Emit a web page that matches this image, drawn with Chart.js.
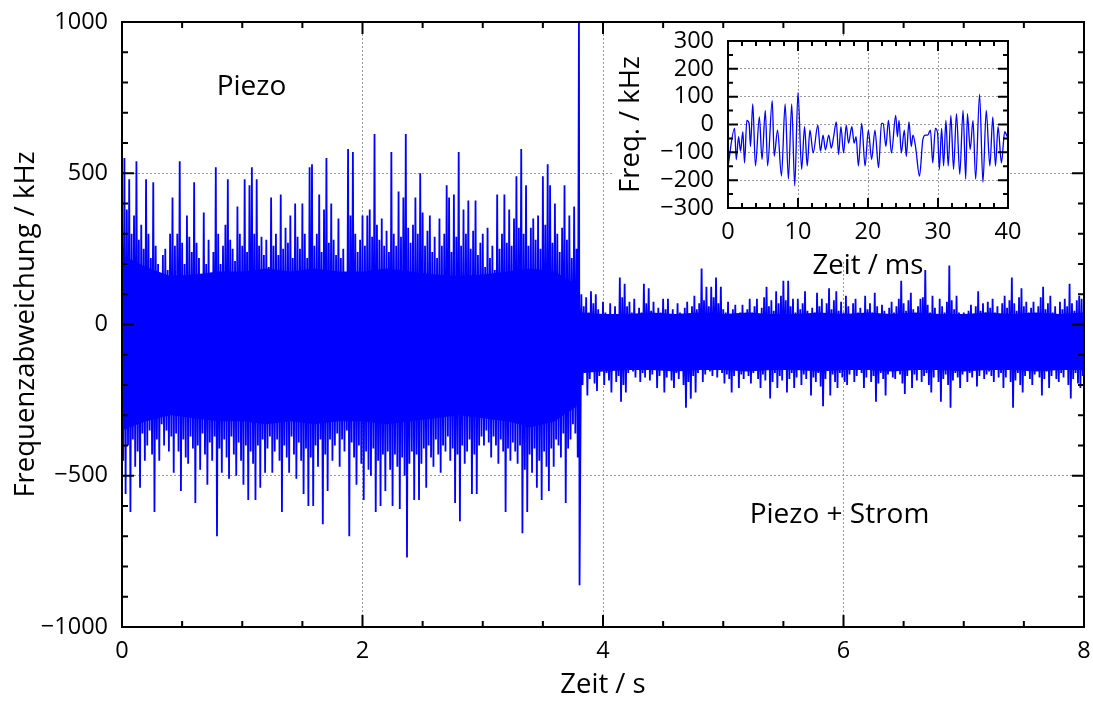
<!DOCTYPE html>
<html><head><meta charset="utf-8">
<script src="https://cdn.jsdelivr.net/npm/chart.js@4.4.0/dist/chart.umd.min.js"></script>
<style>
html,body{margin:0;padding:0;background:#fff;}
#wrap{position:relative;width:1093px;height:702px;overflow:hidden;}
#main{position:absolute;left:0;top:0;width:1093px;height:702px;}
#inset{position:absolute;left:600px;top:25px;width:424px;height:260px;}
</style></head><body>
<div id="wrap"><canvas id="main" width="1093" height="702"></canvas><canvas id="inset" width="424" height="260"></canvas></div>
<script>
// ---------- main chart data (kHz), column maxima / minima sampled every 20 ms ----------
const sampleStep = 0.02;          // s
const seg1Start = 0.0;            // "Piezo"
const seg1Upper = [420,550,380,480,300,360,540,280,330,250,
480,300,220,470,260,200,150,230,250,180,
300,420,260,300,540,270,200,360,290,240,
470,270,220,120,370,200,280,150,240,520,
300,200,260,330,480,280,250,210,390,300,
260,480,240,460,520,300,480,260,290,230,
280,190,420,260,300,230,430,250,320,270,
360,220,400,290,250,400,300,220,520,530,
260,300,430,240,380,550,270,400,280,230,
350,220,250,150,580,360,570,300,240,280,
360,260,360,380,290,630,330,280,350,260,
310,240,570,300,260,440,290,420,630,320,
270,330,420,300,500,370,260,310,360,240,
290,220,350,260,300,460,420,240,430,290,
570,260,380,300,410,250,310,410,230,270,
300,190,320,220,260,180,430,250,300,430,
270,380,260,350,490,320,580,300,460,260,
320,350,280,360,250,490,330,530,460,270,
400,300,240,320,460,280,360,220,390,250];
const seg1Lower = [-450,-560,-400,-620,-380,-470,-420,-540,-360,-450,
-400,-350,-430,-620,-380,-450,-330,-400,-350,-420,
-370,-490,-360,-420,-550,-380,-440,-460,-370,-410,
-590,-400,-480,-360,-430,-530,-390,-450,-370,-700,
-410,-490,-380,-440,-510,-370,-430,-500,-390,-450,
-530,-400,-580,-420,-460,-580,-400,-540,-380,-490,
-410,-370,-490,-420,-380,-450,-620,-400,-440,-490,
-370,-430,-510,-390,-450,-560,-410,-600,-440,-600,
-400,-470,-380,-660,-430,-550,-380,-450,-400,-360,
-470,-380,-420,-350,-700,-390,-440,-530,-400,-460,
-580,-420,-480,-500,-410,-620,-450,-600,-430,-550,
-420,-480,-600,-430,-470,-610,-440,-500,-770,-460,
-420,-580,-430,-580,-460,-410,-540,-400,-440,-470,
-380,-430,-490,-400,-420,-370,-450,-410,-590,-430,
-650,-400,-460,-420,-380,-560,-430,-560,-400,-370,
-400,-350,-390,-440,-370,-400,-460,-380,-420,-620,
-410,-450,-390,-420,-460,-400,-690,-480,-620,-430,
-490,-410,-540,-450,-580,-420,-470,-550,-410,-470,
-380,-400,-440,-360,-590,-410,-380,-330,-360,-440];
const jumpTime = 3.80, jumpHigh = 1000, jumpLow = -862;
const seg2Start = 3.82;           // "Piezo + Strom"
const seg2Upper = [100,60,90,40,110,70,100,50,30,75,
40,20,70,35,60,30,155,90,135,60,
75,40,85,30,55,40,135,70,120,45,
75,30,55,40,85,50,85,35,50,30,
70,40,20,55,75,35,60,95,50,70,
185,80,125,60,125,90,155,70,125,50,
40,75,30,50,65,25,40,65,30,50,
85,40,60,85,35,55,90,125,60,80,
45,110,70,95,145,80,145,60,85,40,
85,50,70,110,45,30,55,40,105,60,
85,35,70,120,50,80,110,45,75,40,
95,60,35,70,85,40,55,30,95,50,
70,40,105,60,30,65,45,35,55,75,
40,60,85,145,70,45,80,105,50,35,
60,85,90,180,65,40,95,55,35,85,
60,40,75,195,80,50,95,40,30,40,
25,45,65,35,60,110,45,70,40,75,
55,85,40,60,30,70,95,55,80,155,
70,45,90,120,60,75,40,55,75,35,
60,90,125,50,70,95,40,60,30,75,
50,85,60,135,70,45,80,95,85];
const seg2Lower = [-200,-160,-235,-180,-150,-195,-220,-170,-150,-200,
-160,-185,-225,-150,-190,-170,-255,-200,-225,-160,
-140,-155,-175,-145,-190,-160,-175,-150,-185,-165,
-140,-210,-170,-150,-225,-175,-150,-185,-210,-160,
-180,-150,-200,-275,-190,-245,-170,-225,-160,-150,
-190,-165,-140,-155,-170,-150,-175,-145,-160,-195,
-165,-180,-225,-170,-150,-210,-165,-180,-150,-170,
-195,-160,-145,-180,-210,-165,-185,-150,-245,-190,
-160,-210,-170,-185,-150,-225,-180,-160,-210,-175,
-150,-200,-165,-180,-150,-235,-175,-190,-160,-205,
-270,-180,-150,-235,-165,-190,-210,-160,-175,-190,
-200,-165,-150,-190,-170,-145,-160,-210,-175,-150,
-190,-170,-255,-195,-160,-180,-235,-165,-150,-175,
-180,-150,-165,-195,-230,-170,-150,-210,-165,-185,
-150,-190,-170,-160,-200,-225,-175,-150,-190,-255,
-180,-165,-200,-275,-185,-160,-175,-210,-165,-150,
-190,-160,-175,-150,-205,-170,-150,-180,-165,-155,
-170,-190,-150,-175,-160,-210,-175,-150,-190,-275,
-185,-160,-200,-225,-170,-150,-180,-200,-165,-150,
-175,-235,-180,-155,-210,-170,-150,-180,-190,-160,
-175,-150,-200,-245,-180,-160,-195,-210,-170];

// solid (densely overlapping) core of the trace, every 0.2 s
const coreTime  = [0,0.2,0.4,0.6,0.8,1.0,1.2,1.4,1.6,1.8,2.0,2.2,2.4,2.6,2.8,3.0,3.2,3.4,3.6,3.78,
                   3.82,4.0,4.2,4.4,4.6,4.8,5.0,5.2,5.4,5.6,5.8,6.0,6.2,6.4,6.6,6.8,7.0,7.2,7.4,7.6,7.8,8.0];
const coreUpper = [230,190,160,165,175,175,185,175,185,175,175,185,175,165,160,165,175,185,175,130,
                   40,35,35,40,35,40,35,40,35,35,40,35,40,35,40,35,35,40,35,40,35,40];
const coreLower = [-350,-320,-300,-310,-320,-320,-330,-320,-330,-320,-320,-330,-320,-310,-300,-310,-320,-340,-320,-270,
                   -160,-155,-150,-150,-155,-150,-150,-155,-150,-150,-155,-150,-150,-155,-150,-150,-155,-150,-150,-155,-150,-150];

const mainXTickValues = [0,2,4,6,8];
const mainXTickLabels = ['0','2','4','6','8'];
const mainYTickValues = [-1000,-500,0,500,1000];
const mainYTickLabels = ['\u22121000','\u2212500','0','500','1000'];
const noteTexts = ['Piezo','Piezo + Strom'];
const noteX = [1.077, 5.967];
const noteY = [785, -630];

// ---------- inset data: 40 ms excerpt ----------
const insetTimeMs = [0,0.94,1.18,1.51,1.79,2.12,2.36,2.69,3.02,3.21,3.54,3.92,4.48,4.86,5.33,5.66,6.32,6.60,7.08,7.64,
8.16,8.63,9.10,9.53,10.00,10.52,10.94,11.32,11.70,12.17,12.83,13.21,13.58,13.92,14.39,14.76,15.09,15.47,15.80,16.13,
16.51,16.89,17.22,17.69,18.02,18.30,18.63,19.10,19.58,20.05,20.52,20.99,21.51,21.93,22.17,22.55,22.92,23.35,23.96,24.20,
24.43,24.76,25.19,25.47,25.85,26.18,26.42,26.79,27.36,27.83,28.21,28.54,28.92,29.25,29.62,29.95,30.19,30.52,30.80,31.13,
31.46,31.84,32.22,32.64,33.11,33.58,33.96,34.20,34.60,35.00,35.38,35.94,36.42,36.89,37.41,37.83,38.21,38.58,39.06,39.53,39.90];
const insetFreq = [-150,-14,-126,-44,-96,-26,-138,15,4,-79,74,-149,27,-126,51,-149,86,-114,-20,-185,
74,-196,74,-220,115,-161,-8,-149,-20,-102,-2,-96,-38,-91,-38,-85,-44,9,-108,-8,
-102,-2,-67,-8,-67,-44,-149,4,-149,-20,-126,-20,-155,4,4,-79,15,-102,33,-44,
15,-102,-20,-114,9,-79,-38,-79,-185,-55,-38,-38,-20,-138,-14,-32,-161,-14,-149,15,
-149,33,-161,39,-179,51,-196,39,-90,15,-196,109,-208,51,-149,27,-149,-8,-138,-26,-44];
const insetXTickValues = [0,10,20,30,40];
const insetXTickLabels = ['0','10','20','30','40'];
const insetYTickValues = [-300,-200,-100,0,100,200,300];
const insetYTickLabels = ['\u2212300','\u2212200','\u2212100','0','100','200','300'];

// ---------- build series ----------
const mainPoints = [];
seg1Upper.forEach((v,i)=>{
  const t = seg1Start + i*sampleStep;
  mainPoints.push({x:t, y:v});
  mainPoints.push({x:t+sampleStep/2, y:seg1Lower[i]});
});
mainPoints.push({x:jumpTime, y:jumpHigh});
mainPoints.push({x:jumpTime+0.005, y:jumpLow});
seg2Upper.forEach((v,i)=>{
  const t = seg2Start + i*sampleStep;
  mainPoints.push({x:t, y:v});
  mainPoints.push({x:t+sampleStep/2, y:seg2Lower[i]});
});
const coreTopPts = coreTime.map((t,i)=>({x:t, y:coreUpper[i]}));
const coreBotPts = coreTime.map((t,i)=>({x:t, y:coreLower[i]}));
const insetPoints = insetTimeMs.map((t,i)=>({x:t, y:insetFreq[i]}));

Chart.defaults.font.family = "'Open Sans', 'DejaVu Sans', sans-serif";
Chart.defaults.color = '#000';

const FONT_TICK = 23.5, FONT_TITLE = 27.5;
const BLUE = '#0000ff';

function noPad(s){ s.paddingLeft = 0; s.paddingRight = 0; s.paddingTop = 0; s.paddingBottom = 0; }

function framePlugin(o){
  return {id:'frame', afterDatasetsDraw(chart){
    const {ctx, chartArea:a} = chart; const x = chart.scales.x, y = chart.scales.y;
    ctx.save(); ctx.strokeStyle='#000'; ctx.lineWidth=2; ctx.lineCap='butt';
    ctx.beginPath();
    const nx = Math.round((x.max-x.min)/o.xMinor);
    for(let k=0;k<=nx;k++){
      const v = x.min + k*o.xMinor; const px = x.getPixelForValue(v);
      const L = (k % o.xEvery === 0) ? o.majLen : o.minLen;
      ctx.moveTo(px,a.bottom); ctx.lineTo(px,a.bottom-L);
      ctx.moveTo(px,a.top); ctx.lineTo(px,a.top+L);
    }
    const ny = Math.round((y.max-y.min)/o.yMinor);
    for(let k=0;k<=ny;k++){
      const v = y.min + k*o.yMinor; const py = y.getPixelForValue(v);
      const L = (k % o.yEvery === 0) ? o.majLen : o.minLen;
      ctx.moveTo(a.left,py); ctx.lineTo(a.left+L,py);
      ctx.moveTo(a.right,py); ctx.lineTo(a.right-L,py);
    }
    ctx.stroke();
    ctx.strokeRect(a.left,a.top,a.right-a.left,a.bottom-a.top);
    ctx.restore();
  }};
}

const notesPlugin = {id:'notes', afterDatasetsDraw(chart){
  const {ctx} = chart; const x = chart.scales.x, y = chart.scales.y;
  ctx.save(); ctx.fillStyle='#000'; ctx.font = "28px 'Open Sans', sans-serif";
  ctx.textAlign='center'; ctx.textBaseline='middle';
  noteTexts.forEach((t,i)=>ctx.fillText(t, x.getPixelForValue(noteX[i]), y.getPixelForValue(noteY[i])));
  ctx.restore();
}};

const gridOpts = {color:'#9a9a9a', lineWidth:1, drawTicks:false};

new Chart(document.getElementById('main'), {
  type:'line',
  data:{datasets:[
    {data:coreTopPts, borderWidth:0, borderColor:BLUE, backgroundColor:BLUE, pointRadius:0, tension:0, fill:'+1'},
    {data:coreBotPts, borderWidth:0, borderColor:BLUE, pointRadius:0, tension:0, fill:false},
    {data:mainPoints, borderColor:BLUE, borderWidth:1.8, pointRadius:0, tension:0, fill:false}
  ]},
  options:{
    responsive:false, animation:false, events:[],
    layout:{padding:{left:0, top:22, right:9, bottom:0}},
    plugins:{legend:{display:false}, tooltip:{enabled:false}, filler:{propagate:false}},
    scales:{
      x:{type:'linear', min:0, max:8,
        afterFit(s){ s.height = 75; noPad(s); },
        afterBuildTicks(s){ s.ticks = mainXTickValues.map(v=>({value:v})); },
        ticks:{padding:10, font:{size:FONT_TICK}, maxRotation:0, autoSkip:false,
          callback:(v)=>{const k=mainXTickValues.indexOf(v); return k>=0?mainXTickLabels[k]:'';}},
        grid:gridOpts, border:{display:false, dash:[2,2]},
        title:{display:true, text:'Zeit / s', font:{size:FONT_TITLE}, padding:{top:0,bottom:0}}},
      y:{min:-1000, max:1000,
        afterFit(s){ s.width = 122; noPad(s); },
        afterBuildTicks(s){ s.ticks = mainYTickValues.map(v=>({value:v})); },
        ticks:{padding:14, font:{size:FONT_TICK}, autoSkip:false,
          callback:(v)=>{const k=mainYTickValues.indexOf(v); return k>=0?mainYTickLabels[k]:'';}},
        grid:gridOpts, border:{display:false, dash:[2,2]},
        title:{display:true, text:'Frequenzabweichung / kHz', font:{size:FONT_TITLE}, padding:{top:10,bottom:0}}}
    }
  },
  plugins:[framePlugin({xMinor:0.5, xEvery:4, yMinor:100, yEvery:5, majLen:12, minLen:6}), notesPlugin]
});

const insetBg = {id:'insetBg', beforeDraw(chart){
  const {ctx} = chart; ctx.save(); ctx.fillStyle='#fff'; ctx.fillRect(13,12,397,225); ctx.restore();
}};

new Chart(document.getElementById('inset'), {
  type:'line',
  data:{datasets:[{data:insetPoints, borderColor:BLUE, borderWidth:1.3, pointRadius:0, cubicInterpolationMode:'monotone', fill:false}]},
  options:{
    responsive:false, animation:false, events:[],
    layout:{padding:{left:0, top:16, right:16, bottom:0}},
    plugins:{legend:{display:false}, tooltip:{enabled:false}},
    scales:{
      x:{type:'linear', min:0, max:40,
        afterFit(s){ s.height = 77; noPad(s); },
        afterBuildTicks(s){ s.ticks = insetXTickValues.map(v=>({value:v})); },
        ticks:{padding:10, font:{size:FONT_TICK}, maxRotation:0, autoSkip:false,
          callback:(v)=>{const k=insetXTickValues.indexOf(v); return k>=0?insetXTickLabels[k]:'';}},
        grid:gridOpts, border:{display:false, dash:[2,2]},
        title:{display:true, text:'Zeit / ms', font:{size:FONT_TITLE}, padding:{top:0,bottom:2.5}}},
      y:{min:-300, max:300,
        afterFit(s){ s.width = 128; noPad(s); },
        afterBuildTicks(s){ s.ticks = insetYTickValues.map(v=>({value:v})); },
        ticks:{padding:14, font:{size:FONT_TICK}, autoSkip:false,
          callback:(v)=>{const k=insetYTickValues.indexOf(v); return k>=0?insetYTickLabels[k]:'';}},
        grid:gridOpts, border:{display:false, dash:[2,2]},
        title:{display:true, text:'Freq. / kHz', font:{size:FONT_TITLE}, padding:{top:14.5,bottom:0}}}
    }
  },
  plugins:[insetBg, framePlugin({xMinor:2, xEvery:5, yMinor:50, yEvery:2, majLen:10, minLen:5})]
});
</script>
</body></html>
